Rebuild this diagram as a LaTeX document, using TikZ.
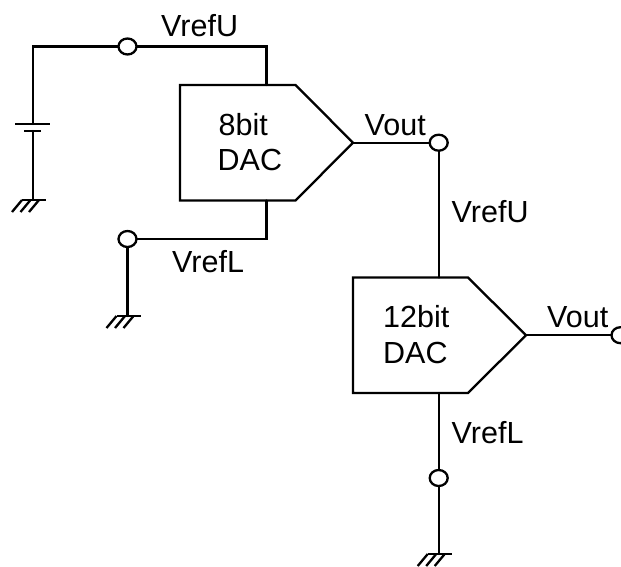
\documentclass[tikz,border=0pt]{standalone}
\usepackage{fontspec}
\setmainfont{Liberation Sans}
\usetikzlibrary{shapes.geometric,calc}
\tikzset{
  wire/.style={line width=2.3pt,line cap=round,line join=miter},
  term/.style={ellipse,draw,fill=white,line width=2.3pt,minimum width=18pt,minimum height=16pt,inner sep=0pt},
  lbl/.style={font=\fontsize{30.5}{35}\selectfont,inner sep=0pt,anchor=base west}
}
\newcommand{\gnd}[1]{%
  \draw[wire,line cap=butt] ($(#1)+(-11,0)$) -- ($(#1)+(13,0)$);
  \foreach \dx in {-11,-2.5,6}
    \draw[wire,line cap=butt] ($(#1)+(\dx,0)$) -- ($(#1)+(\dx-10,12)$);
}
\begin{document}
\begin{tikzpicture}[x=1pt,y=-1pt]
\useasboundingbox (0,0) rectangle (621,566);
\clip (0,0) rectangle (621,566);
% corners and ends
\coordinate (c1) at (33,46.5);
\coordinate (bp) at (33,124);
\coordinate (bn) at (33,131);
\coordinate (g1) at (33,200);
\coordinate (g2) at (127.5,316);
\coordinate (g3) at (438.7,554);
% DAC 1
\coordinate (a1) at (180,85);
\coordinate (a2) at (295.5,85);
\coordinate (a3) at (353,142.7);
\coordinate (a4) at (295.5,200.5);
\coordinate (a5) at (180,200.5);
\coordinate (au) at (266.5,85);
\coordinate (al) at (266.5,200.5);
\coordinate (ac) at (266.5,46.5);
\coordinate (ad) at (266.5,239);
\draw[wire] (a1) -- (a2) -- (a3) -- (a4) -- (a5) -- cycle;
% DAC 2
\coordinate (b1) at (353,277.5);
\coordinate (b2) at (468,277.5);
\coordinate (b3) at (526,335.2);
\coordinate (b4) at (468,393);
\coordinate (b5) at (353,393);
\coordinate (bu) at (438.7,277.5);
\coordinate (bl) at (438.7,393);
\draw[wire] (b1) -- (b2) -- (b3) -- (b4) -- (b5) -- cycle;
% terminal positions; wires end on them
\path (127.5,46.5) coordinate (p1) (127.5,239) coordinate (p2) (438.7,142.7) coordinate (p3) (438.7,478) coordinate (p4) (620.5,335.2) coordinate (p5);
% wires
\draw[wire] (p1) -- (c1) -- (bp);
\draw[wire] (p1) -- (ac) -- (au);
\draw[wire] (al) -- (ad) -- (p2);
\draw[wire] (p2) -- (g2);
\draw[wire] (a3) -- (p3);
\draw[wire] (p3) -- (bu);
\draw[wire] (bl) -- (p4);
\draw[wire] (p4) -- (g3);
\draw[wire] (b3) -- (p5);
\draw[wire] (bn) -- (g1);
% battery
\draw[wire,line cap=butt] ($(bp)+(-18,0)$) -- ($(bp)+(17,0)$);
\draw[wire,line cap=butt] ($(bn)+(-9,0)$) -- ($(bn)+(8,0)$);
% grounds
\gnd{g1}
\gnd{g2}
\gnd{g3}
% terminals
\node[term] (t1) at (p1) {};
\node[term] (t2) at (p2) {};
\node[term] (t3) at (p3) {};
\node[term] (t4) at (p4) {};
\node[term] (t5) at (p5) {};
% labels
\node[lbl] (l1) at (161,36) {VrefU};
\node[lbl] (l2) at (218.5,135) {8bit};
\node[lbl] (l3) at (217.5,170) {DAC};
\node[lbl] (l4) at (364.5,135) {Vout};
\node[lbl] (l5) at (451.5,222) {VrefU};
\node[lbl] (l6) at (172,272) {VrefL};
\node[lbl] (l7) at (383,327) {12bit};
\node[lbl] (l8) at (383,363) {DAC};
\node[lbl] (l9) at (547,327) {Vout};
\node[lbl] (l10) at (451.5,443) {VrefL};
\end{tikzpicture}
\end{document}
